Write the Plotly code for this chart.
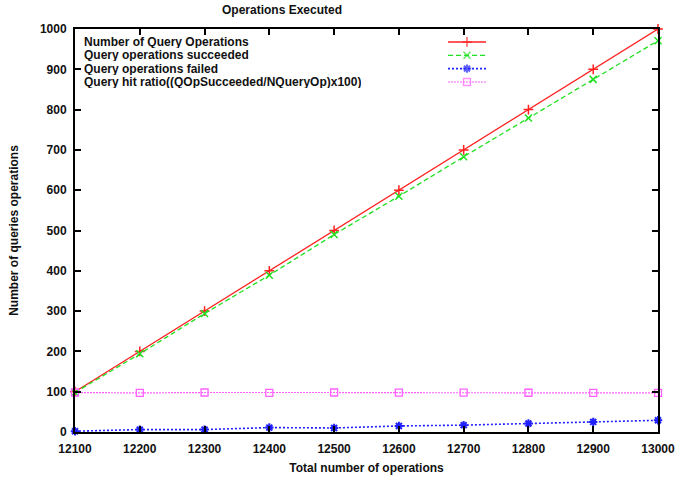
import plotly.graph_objects as go

# ---- data ----
total_ops = [12100, 12200, 12300, 12400, 12500, 12600, 12700, 12800, 12900, 13000]
query_ops = [100, 200, 300, 400, 500, 600, 700, 800, 900, 1000]
query_failed = [2, 6, 6, 11, 10, 15, 17, 21, 25, 29]
query_succeeded = [q - f for q, f in zip(query_ops, query_failed)]
hit_ratio = [round(s / q * 100, 1) for s, q in zip(query_succeeded, query_ops)]

series_names = [
    "Number of Query Operations",
    "Query operations succeeded",
    "Query operations failed",
    "Query hit ratio((QOpSucceeded/NQueryOp)x100)",
]
x_ticks = list(range(12100, 13001, 100))
y_ticks = list(range(0, 1001, 100))

# ---- styles ----
FONT = "Liberation Sans, Arial, sans-serif"
styles = [
    dict(color="#ff2020", dash="solid", symbol="cross-thin-open", size=7, lw=1.3, mlw=1.5),
    dict(color="#20e020", dash="5px,3px", symbol="x-thin-open", size=7, lw=1.3, mlw=1.5),
    dict(color="#2020ff", dash="2px,2px", symbol="asterisk-open", size=7, lw=1.6, mlw=2),
    dict(color="#ff60ff", dash="2px,1px", symbol="square-open", size=7, lw=1.2, mlw=1.3),
]
series_vals = [query_ops, query_succeeded, query_failed, hit_ratio]

fig = go.Figure()
for name, vals, st in zip(series_names, series_vals, styles):
    fig.add_trace(go.Scatter(
        x=total_ops, y=vals, name=name, mode="lines+markers",
        line=dict(color=st["color"], dash=st["dash"], width=st["lw"]),
        marker=dict(symbol=st["symbol"], size=st["size"], color=st["color"],
                    line=dict(color=st["color"], width=st["mlw"])),
        showlegend=False, cliponaxis=False,
    ))

# ---- gnuplot-style key (text left, sample right) ----
W, H = 679, 477
L, R, T, B = 75, 21, 29, 45
pw, ph = W - L - R, H - T - B
row_px = [42, 55.3, 68.6, 82]
sx0, sxm, sx1 = 448, 467, 486
for name, st, ry in zip(series_names, styles, row_px):
    yf = (H - B - ry) / ph
    fig.add_annotation(x=(82 - L) / pw, y=yf, xref="paper", yref="paper",
                       text="<b>" + name + "</b>", showarrow=False,
                       xanchor="left", yanchor="middle", height=12, valign="middle",
                       font=dict(family=FONT, size=12, color="#111"))
    fig.add_trace(go.Scatter(
        x=[(sx0 - L) / pw, (sxm - L) / pw, (sx1 - L) / pw], y=[yf, yf, yf],
        xaxis="x2", yaxis="y2", mode="lines+markers", showlegend=False, hoverinfo="skip",
        line=dict(color=st["color"], dash=st["dash"], width=st["lw"]),
        marker=dict(symbol=st["symbol"], size=[0, st["size"], 0], color=st["color"],
                    line=dict(color=st["color"], width=st["mlw"])),
    ))

axis_common = dict(
    showline=True, linecolor="black", linewidth=2, mirror="ticks",
    ticks="inside", ticklen=6, tickwidth=1.5, tickcolor="black",
    showgrid=False, zeroline=False, automargin=False,
    tickfont=dict(family=FONT, size=12, color="#111", weight="bold"),
)

fig.update_layout(
    width=W, height=H,
    margin=dict(l=L, r=R, t=T, b=B),
    paper_bgcolor="white", plot_bgcolor="white",
    showlegend=False,
    xaxis=dict(range=[12100, 13000], tickvals=x_ticks,
               ticktext=[str(v) for v in x_ticks], ticklabelstandoff=5,
               title=dict(text="<b>Total number of operations</b>", standoff=8,
                          font=dict(family=FONT, size=12, color="#111")),
               **axis_common),
    yaxis=dict(range=[0, 1000], tickvals=y_ticks,
               ticktext=[str(v) for v in y_ticks], ticklabelstandoff=4,
               title=dict(text="<b>Number of queries operations</b>", standoff=19,
                          font=dict(family=FONT, size=12, color="#111")),
               **axis_common),
    xaxis2=dict(overlaying="x", range=[0, 1], visible=False, fixedrange=True),
    yaxis2=dict(overlaying="y", range=[0, 1], visible=False, fixedrange=True),
    title=dict(text="<b>Operations Executed</b>", x=282 / W,
               xanchor="center", y=1 - 10 / H, yanchor="middle",
               font=dict(family=FONT, size=12, color="#111")),
)

fig.write_html("out.html")
